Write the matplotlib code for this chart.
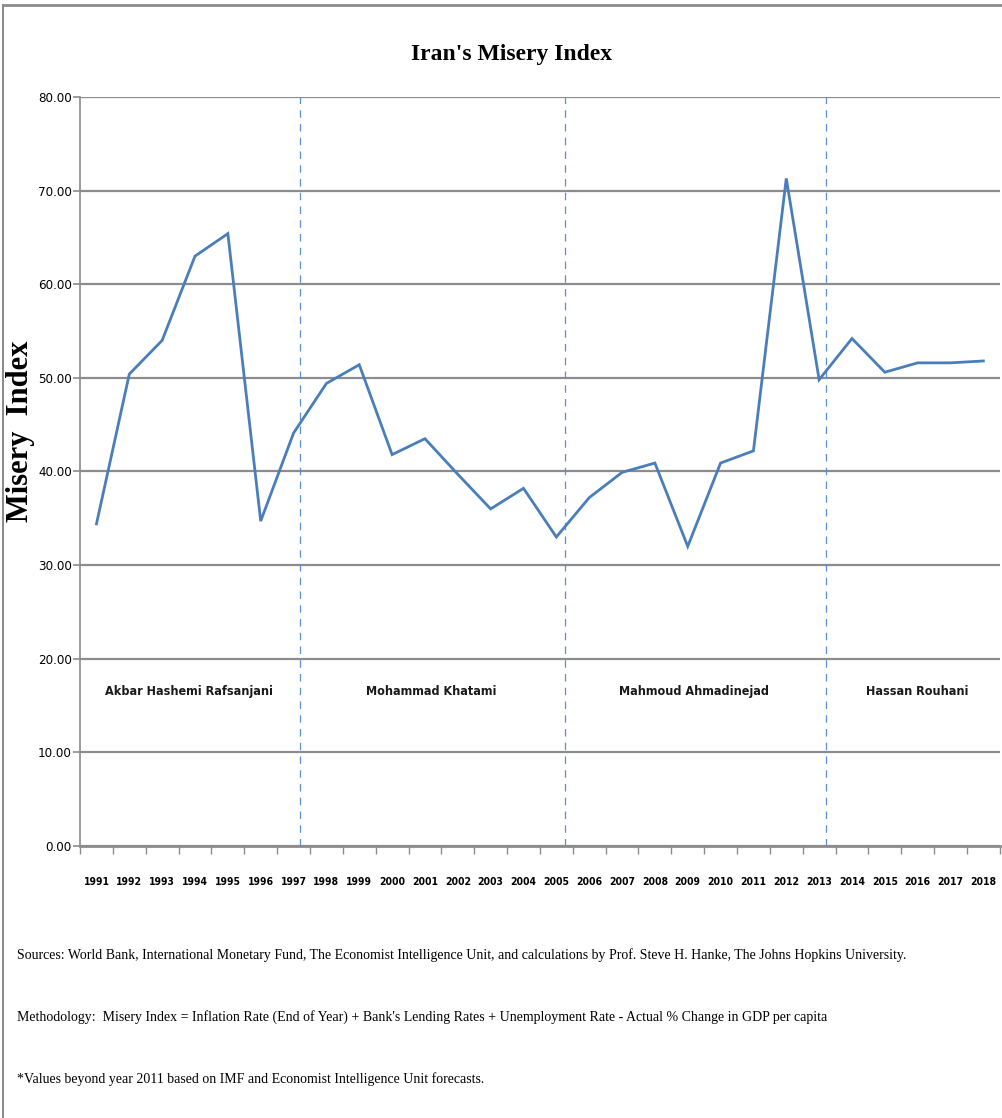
import matplotlib.pyplot as plt
import numpy as np
from matplotlib.lines import Line2D

years = [str(y) for y in range(1991, 2019)]
misery = [34.4, 50.4, 54.0, 63.0, 65.4, 34.7, 44.1, 49.4, 51.4, 41.8,
          43.5, 39.7, 36.0, 38.2, 33.0, 37.2, 39.9, 40.9, 32.0, 40.9,
          42.2, 71.3, 49.8, 54.2, 50.6, 51.6, 51.6, 51.8]
presidents = ['Akbar Hashemi Rafsanjani', 'Mohammad Khatami',
              'Mahmoud Ahmadinejad', 'Hassan Rouhani']
name_pos = [2.83, 10.2, 18.2, 25.0]
term_breaks = [6.2, 14.25, 22.2]

narrow = ['DejaVu Sans']
serif = ['Liberation Serif', 'DejaVu Serif']

fig = plt.figure(figsize=(10.03, 11.18), dpi=100)
ax = fig.add_axes([0.0798, 0.2433, 0.917, 0.670])

x = np.arange(len(years))
ax.set_xlim(-0.5, len(years) - 0.5)
ax.set_ylim(0, 80)

# horizontal gridlines
ax.set_yticks(np.arange(0, 81, 10))
ax.yaxis.grid(True, color='#8c8c8c', linewidth=1.6)
ax.set_axisbelow(True)

for b in term_breaks:
    ax.plot([b, b], [0, 80], color='#5b8fd0', linewidth=0.9,
            linestyle=(0, (6, 5)), zorder=2)

ax.plot(x, misery, color='#4a7ebb', linewidth=2.0, zorder=3,
        solid_joinstyle='miter')

for name, p in zip(presidents, name_pos):
    ax.text(p, 16.5, name, ha='center', va='center', fontsize=9,
            fontweight='bold', family=narrow, fontstretch='condensed',
            color='#1a1a1a')

# x ticks at bin edges, labels at centres
ax.set_xticks(np.arange(-0.5, len(years), 1))
ax.set_xticklabels([])
ax.set_xticks(x, minor=True)
ax.set_xticklabels(years, minor=True, fontsize=7.5, fontweight='bold',
                   family=narrow, fontstretch='condensed')
ax.tick_params(axis='x', which='major', length=6, color='#8c8c8c', width=1)
ax.tick_params(axis='x', which='minor', length=0, pad=22)
ax.set_yticklabels(['%.2f' % v for v in np.arange(0, 81, 10)],
                   fontsize=9.5, family=narrow, fontstretch='condensed')
ax.tick_params(axis='y', length=5, color='#8c8c8c', width=1.2, pad=1)

for s in ['top', 'right']:
    ax.spines[s].set_visible(False)
ax.spines['left'].set_color('#8c8c8c')
ax.spines['left'].set_linewidth(1.2)
ax.spines['bottom'].set_color('#8c8c8c')
ax.spines['bottom'].set_linewidth(2)

ax.set_ylabel('Misery  Index', fontsize=22, fontweight='bold', family=serif)
ax.yaxis.set_label_coords(-0.049, 0.553)

fig.text(0.51, 0.951, "Iran's Misery Index", ha='center', va='center',
         fontsize=17, fontweight='bold', family=serif)

notes = ['Sources: World Bank, International Monetary Fund, The Economist Intelligence Unit, and calculations by Prof. Steve H. Hanke, The Johns Hopkins University.',
         'Methodology:  Misery Index = Inflation Rate (End of Year) + Bank\'s Lending Rates + Unemployment Rate - Actual % Change in GDP per capita',
         '*Values beyond year 2011 based on IMF and Economist Intelligence Unit forecasts.']
for i, t in enumerate(notes):
    fig.text(0.017, 1 - (955 + 62 * i) / 1118, t, ha='left', va='center',
             fontsize=10, family=serif)

# outer frame
fig.add_artist(Line2D([0.003, 1.0], [0.9955, 0.9955], color='#8c8c8c',
                      linewidth=2, transform=fig.transFigure))
fig.add_artist(Line2D([0.003, 0.003], [0.0, 0.9955], color='#8c8c8c',
                      linewidth=1.5, transform=fig.transFigure))

fig.savefig('out.png', dpi=100)
